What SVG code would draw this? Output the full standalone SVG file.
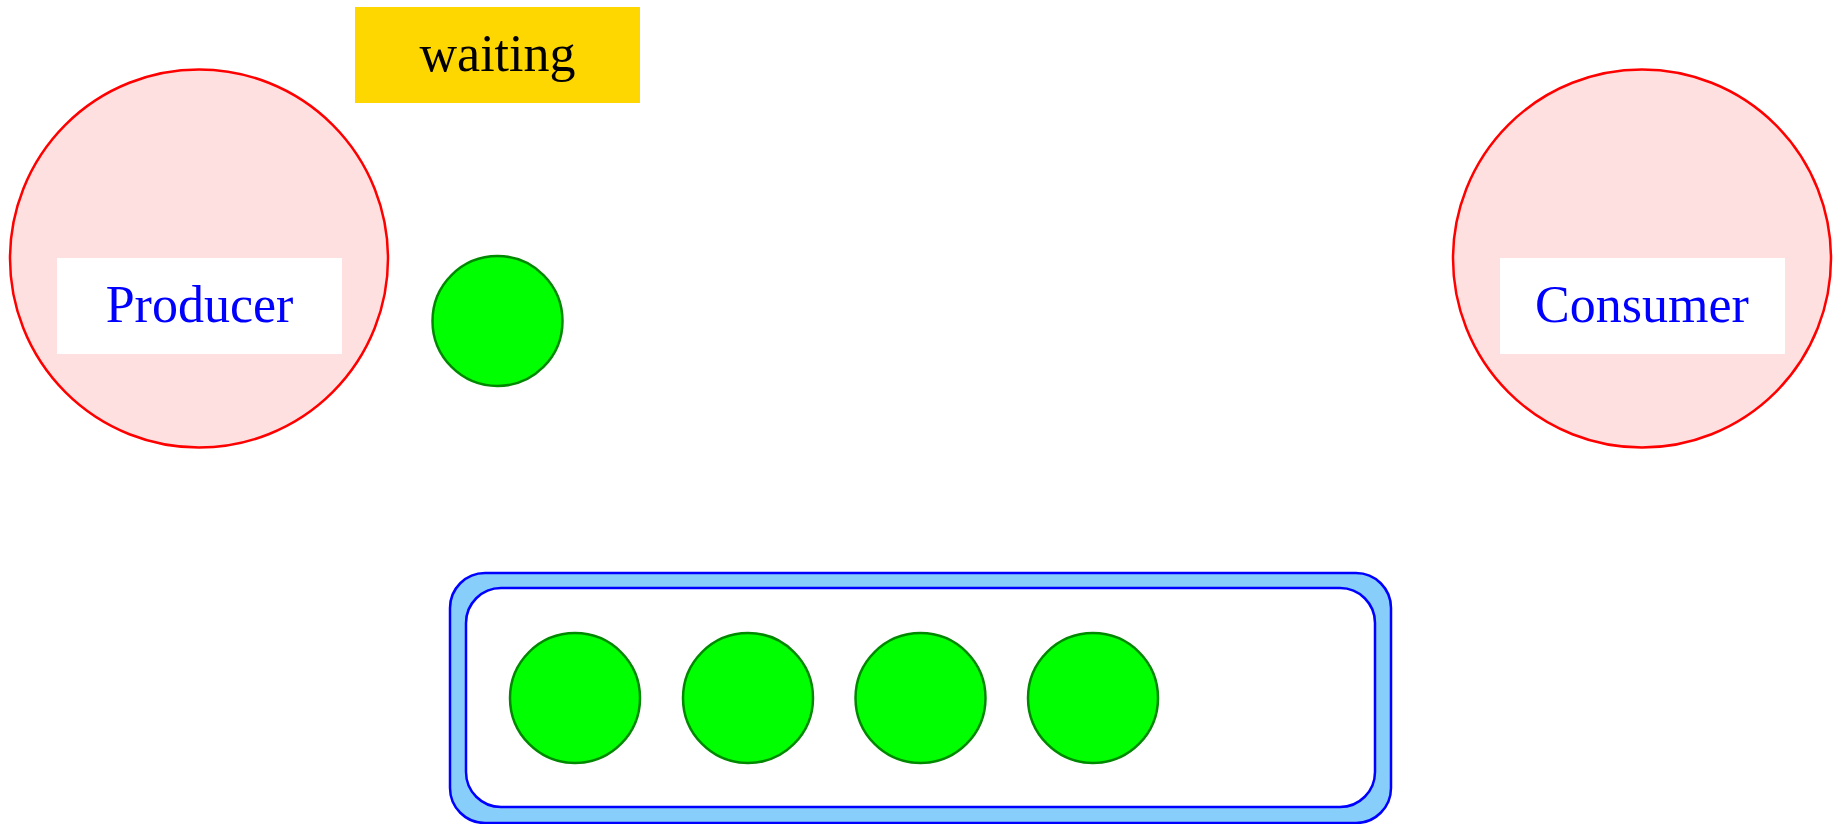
<svg xmlns="http://www.w3.org/2000/svg" width="1845" height="824" viewBox="0 0 1845 824">
<style>
.proc{fill:#FFE0E0;stroke:#FF0000;stroke-width:2.5}
.label{fill:#FFFFFF}
.ltext{font-family:"Liberation Serif",serif;font-size:52px;fill:#0000FF;text-anchor:middle}
.wtext{font-family:"Liberation Serif",serif;font-size:52px;fill:#000000;text-anchor:middle}
.ball{fill:#00FF00;stroke:#008800;stroke-width:2.5}
.outer{fill:#87CEFA;stroke:#0000FF;stroke-width:2.5}
.inner{fill:#FFFFFF;stroke:#0000FF;stroke-width:2.5}
</style>
<rect width="1845" height="824" fill="#FFFFFF"/>
<g id="producer">
<circle class="proc" cx="199" cy="258.5" r="189"/>
<rect class="label" x="57" y="258" width="285" height="96"/>
<text class="ltext" x="199.5" y="322">Producer</text>
</g>
<g id="consumer">
<circle class="proc" cx="1642" cy="258.5" r="189"/>
<rect class="label" x="1500" y="258" width="285" height="96"/>
<text class="ltext" x="1642" y="322">Consumer</text>
</g>
<g id="waiting">
<rect x="355" y="7" width="285" height="96" fill="#FFD700"/>
<text class="wtext" x="497.5" y="71">waiting</text>
</g>
<g id="waiting-item">
<circle class="ball" cx="497.5" cy="321" r="65"/>
</g>
<g id="buffer">
<rect class="outer" x="450" y="573" width="941" height="250" rx="35" ry="35"/>
<rect class="inner" x="466" y="588" width="909" height="219" rx="35" ry="35"/>
</g>
<g id="item1"><circle class="ball" cx="575" cy="698" r="65"/></g>
<g id="item2"><circle class="ball" cx="748" cy="698" r="65"/></g>
<g id="item3"><circle class="ball" cx="920.5" cy="698" r="65"/></g>
<g id="item4"><circle class="ball" cx="1093" cy="698" r="65"/></g>
<g id="connectors"></g>
</svg>
